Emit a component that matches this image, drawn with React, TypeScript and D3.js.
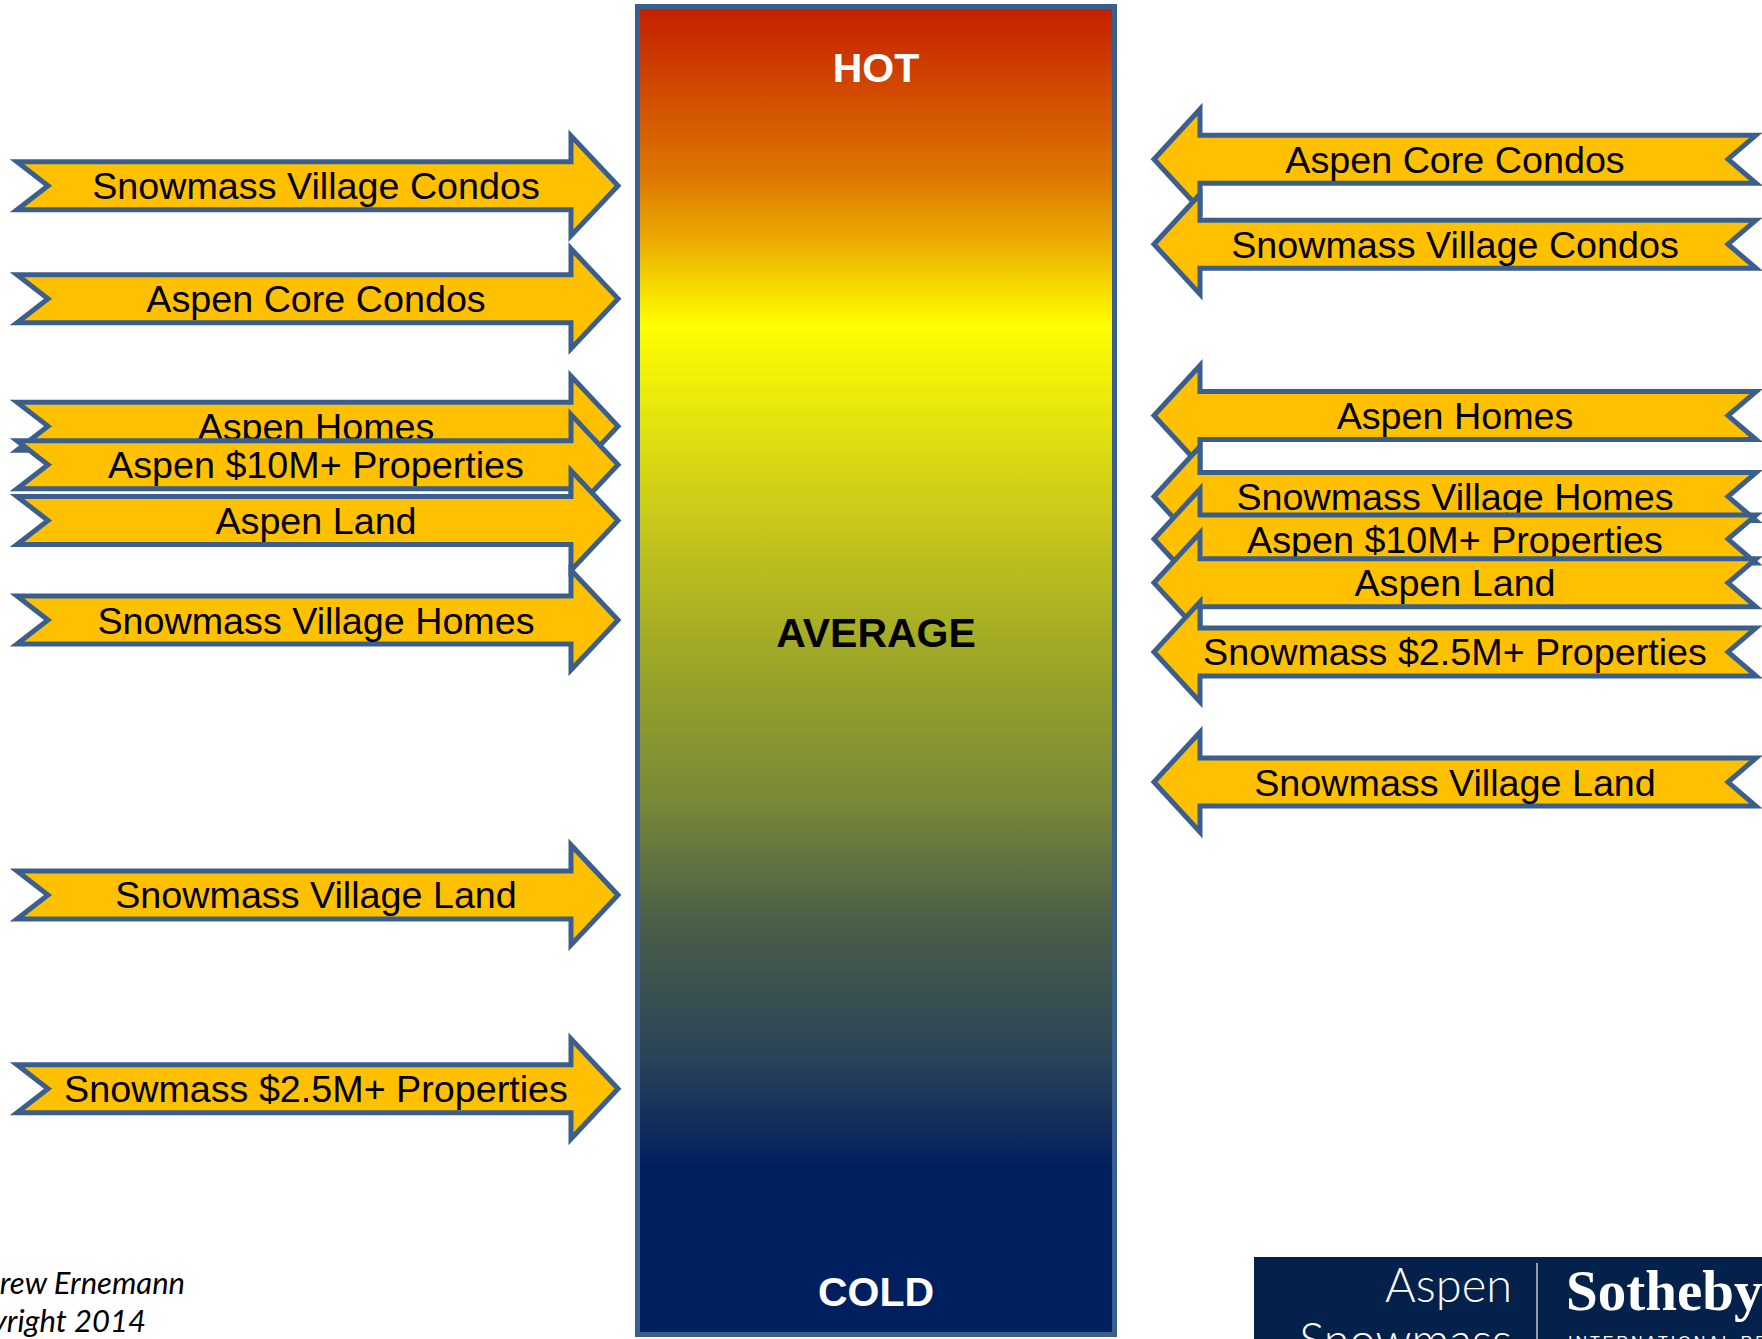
import React from "react";
import * as d3 from "d3";

// Heat score: 0 = cold (bottom of thermometer), 100 = hot (top)
const leftLabels = [
  "Snowmass Village Condos",
  "Aspen Core Condos",
  "Aspen Homes",
  "Aspen $10M+ Properties",
  "Aspen Land",
  "Snowmass Village Homes",
  "Snowmass Village Land",
  "Snowmass $2.5M+ Properties",
];
const leftHeat = [86.5, 78.0, 68.4, 65.5, 61.3, 53.8, 33.1, 18.5];

const rightLabels = [
  "Aspen Core Condos",
  "Snowmass Village Condos",
  "Aspen Homes",
  "Snowmass Village Homes",
  "Aspen $10M+ Properties",
  "Aspen Land",
  "Snowmass $2.5M+ Properties",
  "Snowmass Village Land",
];
const rightHeat = [88.5, 82.1, 69.2, 63.1, 59.9, 56.6, 51.4, 41.6];

const scaleLabels = ["COLD", "AVERAGE", "HOT"];
const scaleLabelHeat = [3.3, 52.9, 95.45];

const gradientStops: [number, string][] = [
  [0, "#C41E00"],
  [0.06, "#D04800"],
  [0.13, "#DE7800"],
  [0.18, "#ECB000"],
  [0.24, "#FFFF00"],
  [0.32, "#E0E010"],
  [0.4, "#C2C41C"],
  [0.5, "#9AA428"],
  [0.6, "#788838"],
  [0.69, "#4A5E48"],
  [0.79, "#2A4458"],
  [0.85, "#0E2A5C"],
  [0.875, "#001F5F"],
  [1, "#001F5F"],
];

const W = 1762;
const H = 1339;
const STROKE = "#3B5F8D";
const FILL = "#FFC000";
const FONT = "'Liberation Sans', Arial, Helvetica, sans-serif";

const barTop = 6.5;
const barBottom = 1334.5;
const barLeft = 637.5;
const barRight = 1114.5;

const y = d3.scaleLinear().domain([0, 100]).range([barBottom, barTop]);

const shaftHalf = 24;
const headHalf = 50;

function rightArrowPath(c: number) {
  const x0 = 17, n = 31, xb = 571, xt = 618;
  const p = d3.path();
  p.moveTo(x0, c - shaftHalf);
  p.lineTo(xb, c - shaftHalf);
  p.lineTo(xb, c - headHalf);
  p.lineTo(xt, c);
  p.lineTo(xb, c + headHalf);
  p.lineTo(xb, c + shaftHalf);
  p.lineTo(x0, c + shaftHalf);
  p.lineTo(x0 + n, c);
  p.closePath();
  return p.toString();
}

function leftArrowPath(c: number) {
  const xr = 1756, n = 28, xb = 1200, xt = 1154;
  const p = d3.path();
  p.moveTo(xr, c - shaftHalf);
  p.lineTo(xb, c - shaftHalf);
  p.lineTo(xb, c - headHalf);
  p.lineTo(xt, c);
  p.lineTo(xb, c + headHalf);
  p.lineTo(xb, c + shaftHalf);
  p.lineTo(xr, c + shaftHalf);
  p.lineTo(xr - n, c);
  p.closePath();
  return p.toString();
}

export default function App() {
  const barCx = (barLeft + barRight) / 2;
  return (
    <div>
      <style>{`body{margin:0;background:#fff}`}</style>
      <svg width={W} height={H} viewBox={`0 0 ${W} ${H}`} style={{ display: "block" }}>
        <defs>
          <linearGradient id="heat" x1="0" y1="0" x2="0" y2="1">
            {gradientStops.map(([o, c], i) => (
              <stop key={i} offset={o} stopColor={c} />
            ))}
          </linearGradient>
        </defs>
        <rect x={0} y={0} width={W} height={H} fill="#fff" />

        {/* thermometer bar */}
        <rect
          x={barLeft}
          y={barTop}
          width={barRight - barLeft}
          height={barBottom - barTop}
          fill="url(#heat)"
          stroke={STROKE}
          strokeWidth={5}
        />
        {scaleLabels.map((t, i) => (
          <text
            key={t}
            x={barCx}
            y={y(scaleLabelHeat[i]) + 15}
            textAnchor="middle"
            fontFamily={FONT}
            fontWeight="bold"
            fontSize={41}
            fill={t === "AVERAGE" ? "#000" : "#fff"}
          >
            {t}
          </text>
        ))}

        {/* left arrows */}
        {leftLabels.map((t, i) => {
          const c = y(leftHeat[i]);
          return (
            <g key={"l" + i}>
              <path d={rightArrowPath(c)} fill={FILL} stroke={STROKE} strokeWidth={5} strokeLinejoin="miter" />
              <text x={316} y={c + 13.5} textAnchor="middle" fontFamily={FONT} fontSize={37.7} fill="#000">
                {t}
              </text>
            </g>
          );
        })}

        {/* right arrows */}
        {rightLabels.map((t, i) => {
          const c = y(rightHeat[i]);
          return (
            <g key={"r" + i}>
              <path d={leftArrowPath(c)} fill={FILL} stroke={STROKE} strokeWidth={5} strokeLinejoin="miter" />
              <text x={1455} y={c + 13.5} textAnchor="middle" fontFamily={FONT} fontSize={37.7} fill="#000">
                {t}
              </text>
            </g>
          );
        })}

        {/* author */}
        <text x={185} y={1294} textAnchor="end" fontFamily="Lato, 'Open Sans', sans-serif" fontStyle="italic" fontSize={31} fill="#000">
          Andrew Ernemann
        </text>
        <text x={146} y={1332} textAnchor="end" fontFamily="Lato, 'Open Sans', sans-serif" fontStyle="italic" fontSize={31} fill="#000">
          Copyright 2014
        </text>

        {/* logo */}
        <rect x={1254} y={1257} width={W - 1254} height={H - 1257} fill="#03214A" />
        <text x={1512} y={1302} textAnchor="end" fontFamily="Lato, 'Open Sans', sans-serif" fontWeight={300} fontSize={47} fill="#fff">
          Aspen
        </text>
        <text x={1512} y={1357} textAnchor="end" fontFamily="Lato, 'Open Sans', sans-serif" fontWeight={300} fontSize={47} fill="#fff">
          Snowmass
        </text>
        <line x1={1537} x2={1537} y1={1263} y2={H} stroke="#fff" strokeOpacity={0.75} strokeWidth={1.5} />
        <text x={1566} y={1310} fontFamily="'Liberation Serif', 'DejaVu Serif', serif" fontWeight="bold" fontSize={57} fill="#fff">
          Sotheby's
        </text>
        <text x={1568} y={1348} fontFamily="'Liberation Sans', sans-serif" fontSize={16} letterSpacing={3} fill="#fff">
          INTERNATIONAL REALTY
        </text>
      </svg>
    </div>
  );
}
